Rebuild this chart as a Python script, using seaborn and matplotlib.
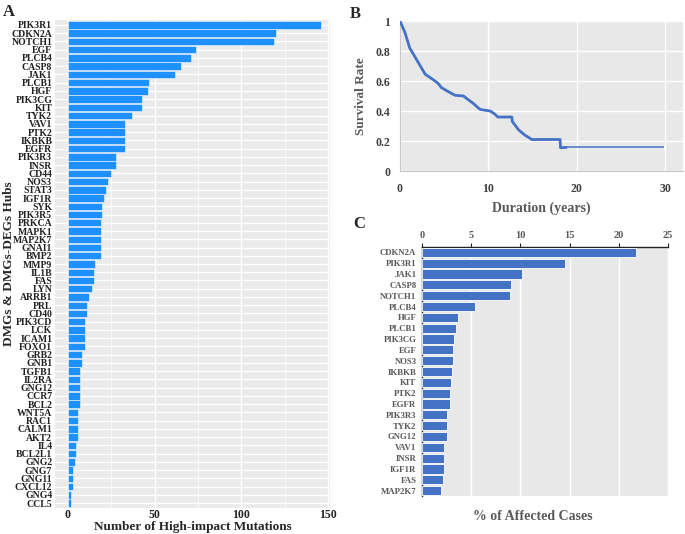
import numpy as np
import pandas as pd
import matplotlib
matplotlib.use('Agg')
import matplotlib.pyplot as plt
import seaborn as sns

# ── Panel A: high-impact mutations per hub gene ──────────────────────────────
hub_genes = ['PIK3R1', 'CDKN2A', 'NOTCH1', 'EGF', 'PLCB4', 'CASP8', 'JAK1', 'PLCB1',
             'HGF', 'PIK3CG', 'KIT', 'TYK2', 'VAV1', 'PTK2', 'IKBKB', 'EGFR', 'PIK3R3',
             'INSR', 'CD44', 'NOS3', 'STAT3', 'IGF1R', 'SYK', 'PIK3R5', 'PRKCA', 'MAPK1',
             'MAP2K7', 'GNAI1', 'BMP2', 'MMP9', 'IL1B', 'FAS', 'LYN', 'ARRB1', 'PRL',
             'CD40', 'PIK3CD', 'LCK', 'ICAM1', 'FOXO1', 'GRB2', 'GNB1', 'TGFB1', 'IL2RA',
             'GNG12', 'CCR7', 'BCL2', 'WNT5A', 'RAC1', 'CALM1', 'AKT2', 'IL4', 'BCL2L1',
             'GNG2', 'GNG7', 'GNG11', 'CXCL12', 'GNG4', 'CCL5']
mut_counts = [146, 120, 119, 74, 71, 65, 62, 47, 46, 43, 43, 37, 33, 33, 33, 33, 28,
              28, 25, 23, 22, 21, 20, 20, 19, 19, 19, 19, 19, 16, 15, 15, 14, 12, 11,
              11, 10, 10, 10, 10, 8, 8, 7, 7, 7, 7, 7, 6, 6, 6, 6, 5, 5,
              4, 3, 3, 3, 2, 2]

# ── Panel B: survival curve ──────────────────────────────────────────────────
km_time = [0, 0.55, 1.1, 1.7, 2.3, 2.85, 3.6, 4.3, 4.7, 5.5, 6.2, 7.2, 7.5, 8.3,
           8.9, 9.1, 10.2, 10.75, 11.05, 12.65, 12.7, 13.4, 14.1, 14.7, 14.9,
           18.1, 18.15, 18.8]
km_surv = [1.0, 0.925, 0.82, 0.76, 0.70, 0.645, 0.615, 0.585, 0.555, 0.528, 0.505,
           0.50, 0.485, 0.45, 0.418, 0.41, 0.40, 0.378, 0.36, 0.36, 0.33, 0.275,
           0.24, 0.218, 0.21, 0.21, 0.155, 0.157]
tail_time = [18.8, 29.8]
tail_surv = [0.157, 0.157]

# ── Panel C: % of affected cases ─────────────────────────────────────────────
case_genes = ['CDKN2A', 'PIK3R1', 'JAK1', 'CASP8', 'NOTCH1', 'PLCB4', 'HGF', 'PLCB1',
              'PIK3CG', 'EGF', 'NOS3', 'IKBKB', 'KIT', 'PTK2', 'EGFR', 'PIK3R3', 'TYK2',
              'GNG12', 'VAV1', 'INSR', 'IGF1R', 'FAS', 'MAP2K7']
case_pct = [21.7, 14.5, 10.2, 9.0, 8.9, 5.4, 3.7, 3.5, 3.3, 3.2, 3.2, 3.0, 2.9, 2.8,
            2.8, 2.5, 2.5, 2.5, 2.2, 2.2, 2.2, 2.1, 1.9]

sns.set_style('white')
plt.rcParams['font.family'] = ['Liberation Serif', 'DejaVu Serif']
plt.rcParams['font.weight'] = 'bold'

W, H = 685, 534
fig = plt.figure(figsize=(W / 100, H / 100), dpi=100)

def box(x0, y0, x1, y1):
    return [x0 / W, 1 - y1 / H, (x1 - x0) / W, (y1 - y0) / H]

# ── A ─────────────────────────────────────────────────────────────────────────
axA = fig.add_axes(box(55, 20, 330, 508))
dfA = pd.DataFrame({'gene': hub_genes, 'n': mut_counts})
axA.set_facecolor('#EBEBEB')
sns.barplot(data=dfA, x='n', y='gene', color='#1E90FF', saturation=1, width=0.9,
            edgecolor='#f4f8ff', linewidth=0.4, ax=axA, zorder=3)
axA.set_xlim(-7.3, 151)
axA.set_ylim(len(hub_genes) - 0.4, -0.6)
axA.set_xticks([0, 50, 100, 150])
axA.set_xticks([25, 75, 125], minor=True)
axA.grid(True, which='major', color='white', lw=1.0, zorder=0)
axA.grid(True, which='minor', axis='x', color='white', lw=0.5, zorder=0)
axA.set_axisbelow(True)
for s in axA.spines.values():
    s.set_visible(False)
axA.tick_params(axis='y', labelsize=7.0, length=0, pad=2, labelcolor='#222222')
axA.tick_params(axis='x', labelsize=8.5, length=0, pad=1, labelcolor='#222222')
axA.set_xlabel('Number of High-impact Mutations', fontsize=9.5, fontweight='bold',
               labelpad=0)
axA.set_ylabel('DMGs & DMGs-DEGs Hubs', fontsize=9.5, fontweight='bold')
axA.yaxis.set_label_coords(-0.147, 0.5)

# ── B ─────────────────────────────────────────────────────────────────────────
axB = fig.add_axes(box(400, 21, 683, 171))
axB.set_facecolor('#E8E8E8')
sns.lineplot(x=km_time, y=km_surv, sort=False, estimator=None, color='#4472C4',
             lw=2.0, ax=axB, zorder=3)
sns.lineplot(x=tail_time, y=tail_surv, sort=False, estimator=None, color='#4472C4',
             lw=1.1, marker='|', markevery=[1], markersize=3, ax=axB, zorder=3)
axB.set_xlim(0, 32)
axB.set_ylim(0, 1)
axB.set_xticks([0, 10, 20, 30])
axB.set_yticks([0, 0.2, 0.4, 0.6, 0.8, 1.0])
axB.set_yticklabels(['0', '0.2', '0.4', '0.6', '0.8', '1'])
axB.grid(True, color='white', lw=1.0, zorder=0)
axB.set_axisbelow(True)
for k in ['top', 'right']:
    axB.spines[k].set_visible(False)
for k in ['left', 'bottom']:
    axB.spines[k].set_color('#c8c8c8')
    axB.spines[k].set_linewidth(0.8)
axB.tick_params(length=3, color='#c8c8c8', labelsize=8.5, labelcolor='#404040', pad=4)
axB.tick_params(axis='x', pad=6)
axB.set_xlabel('Duration (years)', fontsize=10, fontweight='bold', color='#595959',
               labelpad=4)
axB.set_ylabel('Survival Rate', fontsize=9.5, fontweight='bold', color='#595959',
               labelpad=6)

# ── C ─────────────────────────────────────────────────────────────────────────
axC = fig.add_axes(box(422, 247, 668, 496))
axC.set_facecolor('#E8E8E8')
dfC = pd.DataFrame({'gene': case_genes, 'pct': case_pct})
sns.barplot(data=dfC, x='pct', y='gene', color='#4472C4', saturation=1, width=0.85,
            edgecolor='white', linewidth=0.6, ax=axC, zorder=3)
axC.set_xlim(0, 25)
axC.set_ylim(len(case_genes) - 0.5, -0.5)
axC.xaxis.tick_top()
axC.set_xticks([0, 5, 10, 15, 20, 25])
axC.grid(True, axis='x', color='white', lw=1.0, zorder=0)
axC.grid(False, axis='y')
axC.set_axisbelow(True)
axC.set_yticks(np.arange(-0.5, len(case_genes), 1.0), minor=True)
for k in ['right', 'bottom']:
    axC.spines[k].set_visible(False)
for k in ['top', 'left']:
    axC.spines[k].set_color('#222222')
    axC.spines[k].set_linewidth(1.0)
axC.tick_params(axis='y', which='major', length=0, labelsize=6.3, labelcolor='#595959',
                pad=4)
axC.tick_params(axis='y', which='minor', length=3, color='#222222', width=0.8)
axC.tick_params(axis='x', length=3, color='#222222', labelsize=7.5,
                labelcolor='#595959', pad=2)
axC.set_ylabel('')
axC.set_xlabel('% of Affected Cases', fontsize=10, fontweight='bold', color='#595959')
axC.xaxis.set_label_coords(0.45, -0.055)

# panel letters
fig.text(3 / W, 1 - 4 / H, 'A', fontsize=12, fontweight='bold', va='top', ha='left')
fig.text(350 / W, 1 - 6 / H, 'B', fontsize=12, fontweight='bold', va='top', ha='left')
fig.text(353 / W, 1 - 216 / H, 'C', fontsize=12, fontweight='bold', va='top', ha='left')

fig.savefig('out.png', dpi=100)
